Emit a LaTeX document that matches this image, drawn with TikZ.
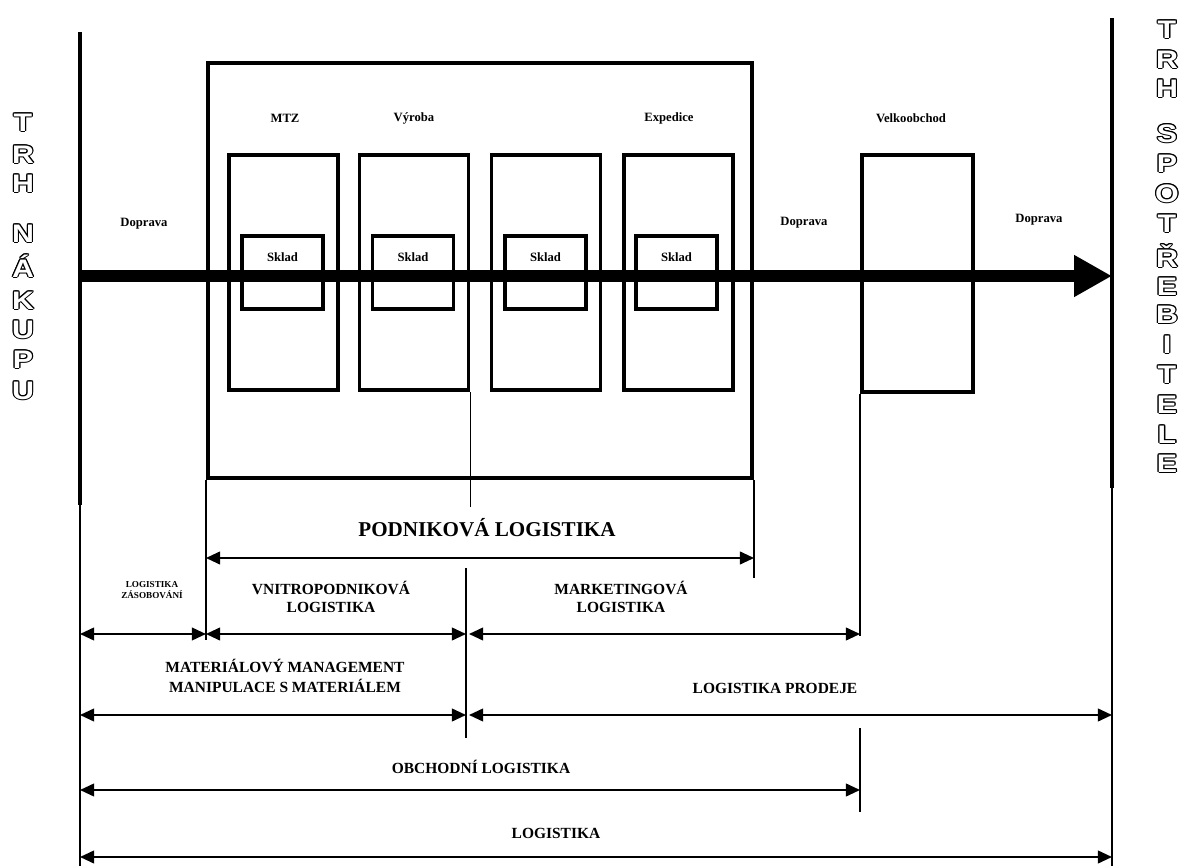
\documentclass[tikz,border=0pt]{standalone}
\usepackage{fontspec}
\setmainfont{Liberation Serif}
\setsansfont{Liberation Sans}
\usepackage{contour}
\usetikzlibrary{arrows.meta,positioning}

\newcommand{\lbl}[2]{\fontsize{#1}{#2}\selectfont\bfseries}
\newcommand{\hollow}[1]{\scalebox{1.2}[1]{\contour{black}{#1}}}
\contourlength{0.7pt}
\contournumber{12}

\begin{document}
\begin{tikzpicture}[
  x=0.025cm,
  y=-0.025cm,
  bar/.style={draw=black, line width=3pt},
  guide/.style={draw=black, line width=1.1pt},
  frame/.style={draw=black, line width=2.8pt, inner sep=0pt},
  dept/.style={frame, minimum width=27.25mm, minimum height=58.75mm},
  store/.style={frame, minimum width=20.25mm, minimum height=18.25mm},
  caption/.style={font=\lbl{9}{10}, inner sep=0pt},
  heading/.style={font=\lbl{11}{12.8}, align=center, inner sep=0pt},
  span/.style={
    draw=black,
    line width=1.4pt,
    {Triangle[length=10pt,width=9pt]}-{Triangle[length=10pt,width=9pt]}
  },
  flow/.style={draw=black, line width=8.5pt, -{Triangle[length=27pt,width=28pt]}},
  market/.style={
    font=\fontsize{18}{18}\selectfont\sffamily\bfseries,
    text=white,
    text height=13pt,
    text depth=0pt,
    inner sep=0pt
  }
]

% Coordinates are in pixels of the original figure (y grows downwards).
\useasboundingbox (0,0) rectangle (1179,866);

\coordinate (nakup) at (80,0);
\coordinate (spotr) at (1112,0);
\coordinate (mid)   at (466,0);
\coordinate (midR)  at (469,0);

\coordinate (fl) at (0,276);
\coordinate (r1) at (0,558);
\coordinate (r2) at (0,634);
\coordinate (r3) at (0,715);
\coordinate (r4) at (0,790);
\coordinate (r5) at (0,857);

% markets
\draw[bar] (80,32) coordinate (nakupTop) -- (80,505) coordinate (nakupEnd);
\draw[guide] (nakupEnd) -- (80,866);
\draw[bar] (1112,18) coordinate (spotrTop) -- (1112,488) coordinate (spotrEnd);
\draw[guide] (spotrEnd) -- (1112,866);

\foreach \ch/\yy [count=\i] in {T/122,R/154,H/183,N/233,Á/268,K/300,U/329,P/359,U/390}
  \node[market] (buy\i) at (23,\yy) {\hollow{\ch}};
\foreach \ch/\yy [count=\i] in {T/29,R/59,H/88,S/133,P/163,O/193,T/223,Ř/258,E/286,B/314,I/344,T/374,E/404,L/434,E/463}
  \node[market] (sell\i) at (1167,\yy) {\hollow{\ch}};

% company
\node[frame, minimum width=136mm, minimum height=103.75mm] (podnik) at (480,270.5) {};

\node[dept] (d1) at (283.5,272.5) {};
\node[dept] (d2) at (414,272.5) {};
\node[dept] (d3) at (546,272.5) {};
\node[dept] (d4) at (678.5,272.5) {};
\node[dept, minimum width=27.75mm, minimum height=59.25mm] (velko) at (917.5,273.5) {};

\node[store] (s1) at (282.5,272.5) {};
\node[store] (s2) at (413,272.5) {};
\node[store] (s3) at (545.5,272.5) {};
\node[store] (s4) at (676.5,272.5) {};

\foreach \i in {1,...,4}
  \node[caption, below=4.6mm of s\i.north] (sklad\i) {Sklad};

\node[caption] (mtz)    at (285,118) {MTZ};
\node[caption] (vyroba) at (414,118) {Výroba};
\node[caption] (exped)  at (669,118) {Expedice};
\node[caption] (velkoT) at (911,118) {Velkoobchod};
\node[caption] (dop1)   at (144,224) {Doprava};
\node[caption] (dop2)   at (804,223) {Doprava};
\node[caption] (dop3)   at (1039,220) {Doprava};

\draw[flow] (nakup |- fl) -- (spotr |- fl);

% guides
\draw[guide] (d2.south east) -- ++(0,115);
\draw[guide] (podnik.south west) -- (podnik.south west |- 0,640);
\draw[guide] (podnik.south east) -- (podnik.south east |- 0,578);
\draw[guide] (mid |- 0,568) -- (mid |- 0,738);
\draw[guide] (velko.south west) -- (velko.south west |- 0,636);
\draw[guide] (velko.south west |- 0,728) -- (velko.south west |- 0,812);

% spans
\draw[span] (podnik.south west |- r1) -- (podnik.south east |- r1);
\draw[span] (nakup |- r2) -- (podnik.south west |- r2);
\draw[span] (podnik.south west |- r2) -- (mid |- r2);
\draw[span] (midR |- r2) -- (velko.south west |- r2);
\draw[span] (nakup |- r3) -- (mid |- r3);
\draw[span] (midR |- r3) -- (spotr |- r3);
\draw[span] (nakup |- r4) -- (velko.south west |- r4);
\draw[span] (nakup |- r5) -- (spotr |- r5);

\node[font=\lbl{15}{17}, inner sep=0pt] (podlog) at (487,528) {PODNIKOVÁ LOGISTIKA};
\node[heading, font=\lbl{6.5}{7.8}] (zasob) at (152,590) {LOGISTIKA\\ZÁSOBOVÁNÍ};
\node[heading] (vnitro) at (331,597) {VNITROPODNIKOVÁ\\LOGISTIKA};
\node[heading] (mark)   at (621,597) {MARKETINGOVÁ\\LOGISTIKA};
\node[heading, font=\lbl{11}{14}] (matman) at (285,676) {MATERIÁLOVÝ MANAGEMENT\\MANIPULACE S MATERIÁLEM};
\node[heading] (prodej) at (775,688) {LOGISTIKA PRODEJE};
\node[heading] (obchod) at (481,767) {OBCHODNÍ LOGISTIKA};
\node[heading] (logist) at (556,833) {LOGISTIKA};

\end{tikzpicture}
\end{document}
